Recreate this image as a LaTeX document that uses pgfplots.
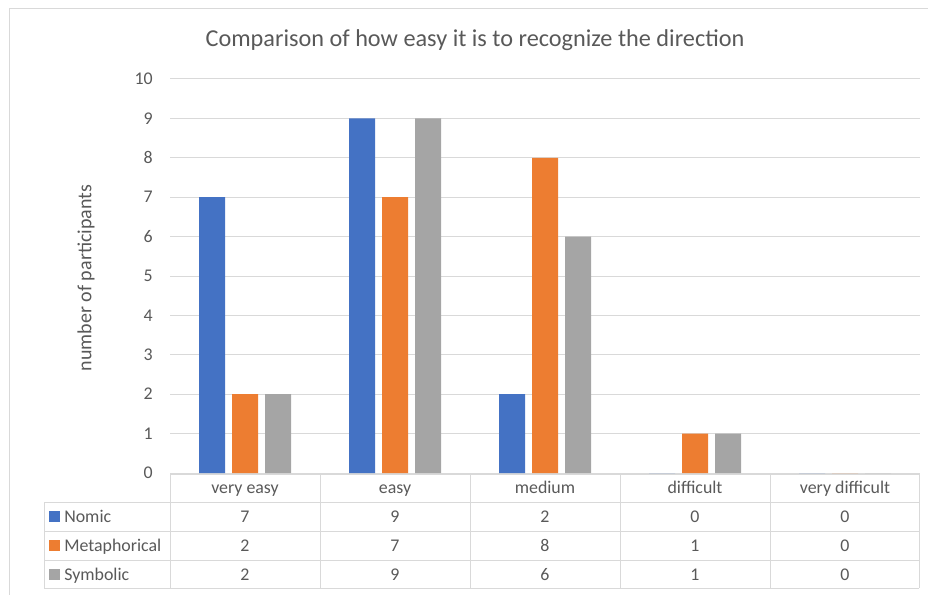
\documentclass[border=0pt]{standalone}
\usepackage{fontspec}
\setmainfont{Carlito}
\usepackage{pgfplots}
\usepackage{pgfplotstable}
\pgfplotsset{compat=1.18}

\definecolor{nomic}{HTML}{4472C4}
\definecolor{meta}{HTML}{ED7D31}
\definecolor{symb}{HTML}{A5A5A5}
\definecolor{txt}{HTML}{595959}
\definecolor{gridc}{HTML}{D9D9D9}

% answers per category (0 = very easy ... 4 = very difficult)
\pgfplotstableread{
cat nomic meta sym
0   7     2    2
1   9     7    9
2   2     8    6
3   0     1    1
4   0     0    0
}\datatable

\newcommand{\lbl}{\fontsize{13.4}{15}\selectfont\color{txt}}

\begin{document}
\begin{tikzpicture}
% layout grid in pixel-like units (0.75pt), y pointing down
\begin{scope}[x=0.75pt,y=-0.75pt]
  \useasboundingbox (0,0) rectangle (928,595);
  \draw[gridc, line width=0.75pt] (9,640) -- (9,8.5) -- (960,8.5);
  \node[font=\fontsize{18.2}{21}\selectfont, text=txt] at (475,40)
    {Comparison of how easy it is to recognize the direction};
  \node[rotate=90, font=\fontsize{15}{17}\selectfont, text=txt] at (86,278) {number of participants};
\end{scope}

\begin{axis}[
  at={(127.5pt,-354.75pt)}, anchor=south west,
  scale only axis, width=562.5pt, height=295.5pt,
  xmin=-0.5, xmax=4.5, ymin=0, ymax=10,
  ytick={0,...,10}, xtick=\empty,
  ymajorgrids, grid style={draw=gridc, line width=0.75pt},
  axis line style={draw=none}, tick style={draw=none},
  /pgf/number format/assume math mode=true,
  yticklabel style={font=\lbl, inner sep=0pt, anchor=east, xshift=-12.75pt},
  ybar=5.25pt, bar width=19.5pt,
  clip=false,
]
  \addplot[fill=nomic, draw=none] table[x=cat, y=nomic] {\datatable};
  \addplot[fill=meta,  draw=none] table[x=cat, y=meta]  {\datatable};
  \addplot[fill=symb,  draw=none] table[x=cat, y=sym]   {\datatable};
\end{axis}

% data table under the bars
\begin{scope}[x=0.75pt,y=-0.75pt]
  \draw[gridc, line width=0.75pt] (170,474) -- (919,474);
  \foreach \yy in {502,531,560,588}
    \draw[gridc, line width=0.75pt] (44,\yy) -- (919,\yy);
  \draw[gridc, line width=0.75pt] (44,502) -- (44,588);
  \foreach \xx in {170,320,470,620,770,919}
    \draw[gridc, line width=0.75pt] (\xx,474) -- (\xx,588);

  \foreach \name [count=\i from 0] in {very easy,easy,medium,difficult,very difficult}
    \node[font=\lbl, anchor=base, inner sep=0pt] at ({245+150*\i},493.5) {\name};

  \foreach \col/\c/\yy/\name in {nomic/nomic/516.5/Nomic, meta/meta/545.5/Metaphorical, sym/symb/574.5/Symbolic} {
    \fill[\c] (49,\yy-5.5) rectangle (60,\yy+5.5);
    \node[font=\lbl, anchor=base west, inner sep=0pt] at (64,\yy+5.5) {\name};
    \foreach \i in {0,...,4} {
      \pgfplotstablegetelem{\i}{\col}\of\datatable
      \node[font=\lbl, anchor=base, inner sep=0pt] at ({245+150*\i},\yy+5.5) {\pgfplotsretval};
    }
  }
\end{scope}
\end{tikzpicture}
\end{document}
